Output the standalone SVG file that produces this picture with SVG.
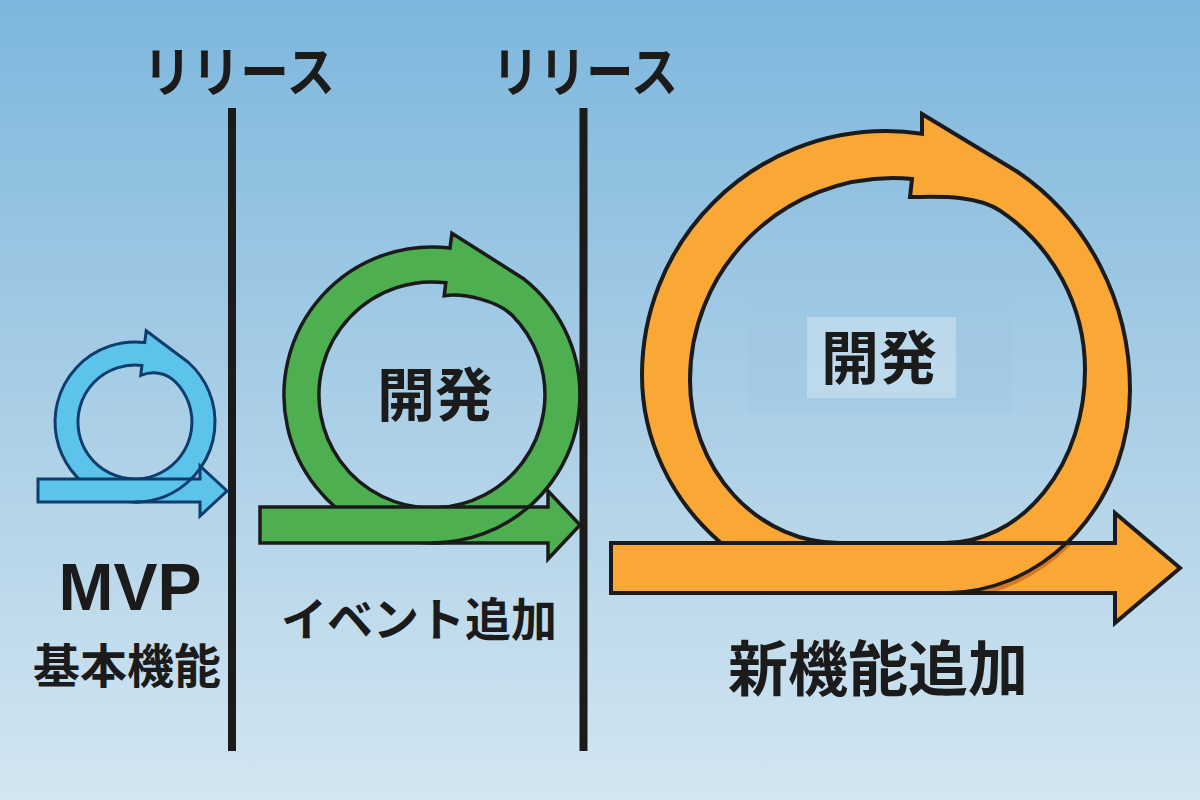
<svg xmlns="http://www.w3.org/2000/svg" width="1200" height="800" viewBox="0 0 1200 800">
  <defs>
    <linearGradient id="bg" x1="0" y1="0" x2="0" y2="1">
      <stop offset="0" stop-color="#7db7dd"/>
      <stop offset="0.5" stop-color="#a9cee6"/>
      <stop offset="1" stop-color="#d3e6f1"/>
    </linearGradient>
    <clipPath id="orangeBar">
      <rect x="611" y="545" width="504" height="46"/>
    </clipPath>
  </defs>
  <style>
    .txt { font-family: "Noto Sans CJK JP", "Noto Sans", sans-serif; font-weight: 700; fill: #1b1b1b; text-anchor: middle; }
    .lat { font-family: "Liberation Sans", Arial, sans-serif; font-weight: 700; fill: #1b1b1b; text-anchor: middle; }
    .blue { fill: #5cc3ea; stroke: #0d3d6c; stroke-width: 3; stroke-linejoin: miter; }
    .green { fill: #4daf4f; stroke: #1b1b1b; stroke-width: 3.5; stroke-linejoin: miter; }
    .orange { fill: #f9a835; stroke: #1b1b1b; stroke-width: 4; stroke-linejoin: miter; }
    .line-blue { fill: none; stroke: #0d3d6c; stroke-width: 3; }
    .line-dark { fill: none; stroke: #1b1b1b; stroke-width: 3.5; }
    .divider { stroke: #1b1b1b; stroke-width: 8; }
  </style>

  <rect width="1200" height="800" fill="url(#bg)"/>

  <g id="connectors">
    <line class="divider" x1="232" y1="108" x2="232" y2="751"/>
    <line class="divider" x1="583.5" y1="108" x2="583.5" y2="751"/>
  </g>

  <g id="release-1">
    <text class="txt" x="239" y="92" font-size="54" textLength="192" lengthAdjust="spacingAndGlyphs">リリース</text>
  </g>
  <g id="release-2">
    <text class="txt" x="585" y="92" font-size="54" textLength="186" lengthAdjust="spacingAndGlyphs">リリース</text>
  </g>

  <g id="loop-mvp">
    <path class="blue" fill-rule="evenodd" d="M146.2,330.7 L188.5,362.5 A80,80 0 1 1 144.75,342.6 Z M140.7,375.4 C152,371 165.3,371.7 175.3,381.7 A57,57 0 1 1 141.95,365.4 Z"/>
    <path class="blue" d="M38,479 H200 V466 L227,491 L200,516 V502 H38 Z"/>
    <path class="line-blue" d="M191.1,479 A80,80 0 0 1 135,502"/>
  </g>

  <g id="loop-event">
    <path class="green" fill-rule="evenodd" d="M451.9,233.2 L523.1,278.4 A148,148 0 1 1 450,248.1 Z M444.2,295.7 C465,293 497.8,301 511.9,315.1 A113,113 0 1 1 445.8,282.8 Z"/>
    <path class="green" d="M260,507 H548 V491 L580,525 L548,559 V543 H260 Z"/>
    <path class="line-dark" d="M528.7,507 A148,148 0 0 1 432,543"/>
    <text class="txt" x="435" y="416" font-size="58">開発</text>
  </g>

  <g id="loop-new">
    <path class="orange" fill-rule="evenodd" d="M922,114 L1017,171.5 A244,259 0 0 1 1130,390 A185,203 0 0 1 945,593 L721,593 L721,543 A244,228 0 0 1 642,375 A244,244 0 0 1 886,131 A244,259 0 0 1 922,133.8 Z M910,197 C935,197 975,194 1000,210.6 A192,192 0 0 1 1085,370 A140,173 0 0 1 945,543 L840,543 A150,163 0 0 1 690,380 A203,202 0 0 1 893,178 A192,192 0 0 1 912,179 Z"/>
    <path class="orange" d="M611,543 H1115 V513 L1180,568 L1115,623 V593 H611 Z"/>
    <path clip-path="url(#orangeBar)" fill="none" stroke="#d9761f" stroke-width="7" d="M1130,390 A190,207 0 0 1 945,597"/>
    <path class="line-dark" stroke-width="4" d="M1066.6,543 A185,203 0 0 1 945,593"/>
    <rect x="747" y="297" width="265" height="115" fill="#9fc6e2" opacity="0.35"/>
    <rect x="807" y="317" width="149" height="81" fill="#c3ddee" opacity="0.8"/>
    <text class="txt" x="879" y="379" font-size="58">開発</text>
  </g>

  <g id="label-mvp">
    <text class="lat" x="130" y="610" font-size="66">MVP</text>
    <text class="txt" x="127" y="683" font-size="47">基本機能</text>
  </g>
  <g id="label-event">
    <text class="txt" x="419" y="636" font-size="46">イベント追加</text>
  </g>
  <g id="label-new">
    <text class="txt" x="878" y="691" font-size="60">新機能追加</text>
  </g>
</svg>
